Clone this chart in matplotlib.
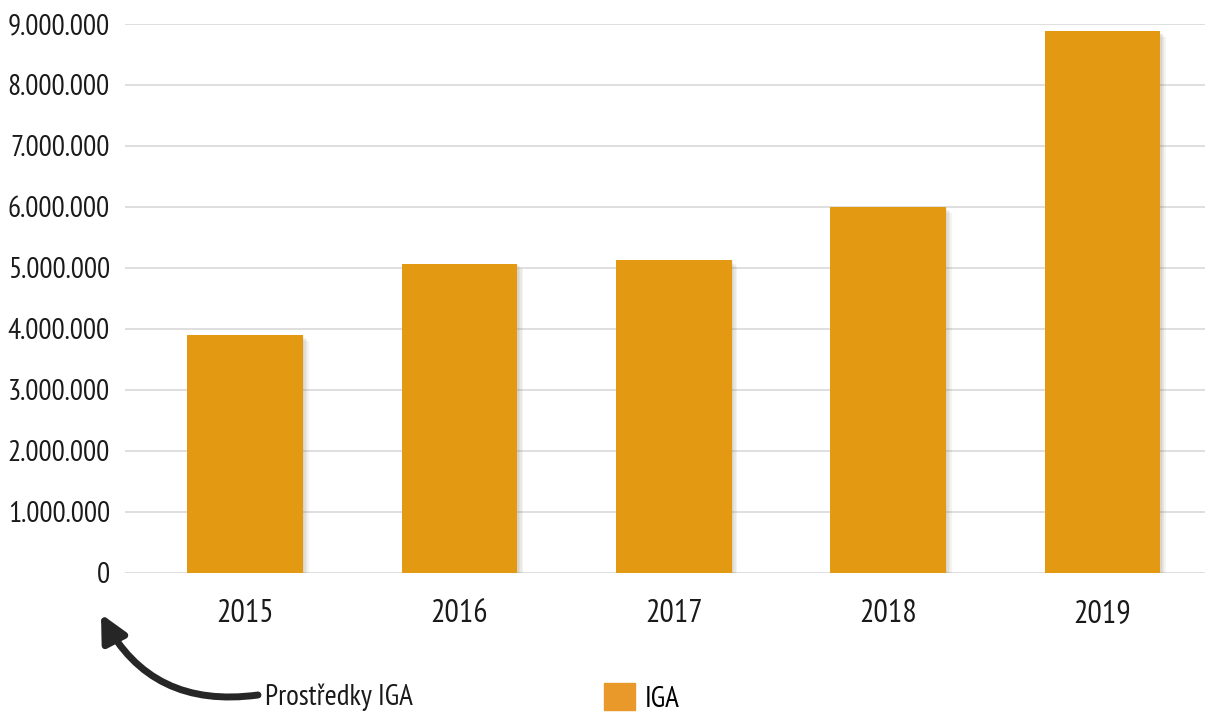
import numpy as np
import matplotlib.pyplot as plt
import matplotlib.patheffects as pe
from matplotlib.ticker import FuncFormatter
from matplotlib.patches import Patch

plt.rcParams['font.family'] = ['PT Sans Narrow', 'Roboto Condensed', 'Archivo Narrow', 'DejaVu Sans']

# data
years = ['2015', '2016', '2017', '2018', '2019']
iga = [3900000, 5070000, 5130000, 6000000, 8880000]
yticks = [0, 1000000, 2000000, 3000000, 4000000, 5000000, 6000000, 7000000, 8000000, 9000000]

bar_color = '#E39912'

fig = plt.figure(figsize=(12.15, 7.13), dpi=100)
ax = fig.add_axes([0.103, 0.1964, 0.889, 0.77])

x = np.arange(len(years))
bars = ax.bar(x, iga, width=0.54, color=bar_color, zorder=3)
# soft shadow: a few faint offset copies
shadow = [pe.SimplePatchShadow(offset=(d, -d), shadow_rgbFace='#8a7a5a', alpha=0.09) for d in (4, 3, 2, 1)]
for b in bars:
    b.set_path_effects(shadow + [pe.Normal()])

ax.set_xlim(-0.56, 4.48)
ax.set_ylim(0, 9000000)
ax.set_yticks(yticks)
ax.yaxis.set_major_formatter(FuncFormatter(lambda v, p: f"{int(v):,}".replace(",", ".")))
ax.set_xticks(x)
ax.set_xticklabels(years)
ax.grid(axis='y', color='#d9d9d9', linewidth=1.2, zorder=0)
ax.set_axisbelow(True)
for s in ax.spines.values():
    s.set_visible(False)
ax.tick_params(axis='y', length=0, pad=11, labelsize=21, colors='#1a1a1a')
ax.tick_params(axis='x', length=0, pad=19, labelsize=23, colors='#1a1a1a')

# curved arrow with label
ax.annotate('', xy=(101, 99), xycoords='figure pixels',
            xytext=(258, 18), textcoords='figure pixels',
            arrowprops=dict(arrowstyle='-|>,head_length=1.6,head_width=0.8',
                            connectionstyle='arc3,rad=-0.35',
                            color='#262626', lw=5, shrinkA=0, shrinkB=0))
fig.text(265 / 1215, 16 / 713, 'Prostředky IGA', fontsize=21, color='#1a1a1a',
         ha='left', va='center')

# legend
fig.legend(handles=[Patch(color='#E8992A', label='IGA')], loc='center left',
           bbox_to_anchor=(604 / 1215, 15 / 713), frameon=False, fontsize=21,
           handlelength=1.05, handleheight=1.05, handletextpad=0.35, borderpad=0,
           borderaxespad=0)

fig.savefig('out.png', dpi=100)
